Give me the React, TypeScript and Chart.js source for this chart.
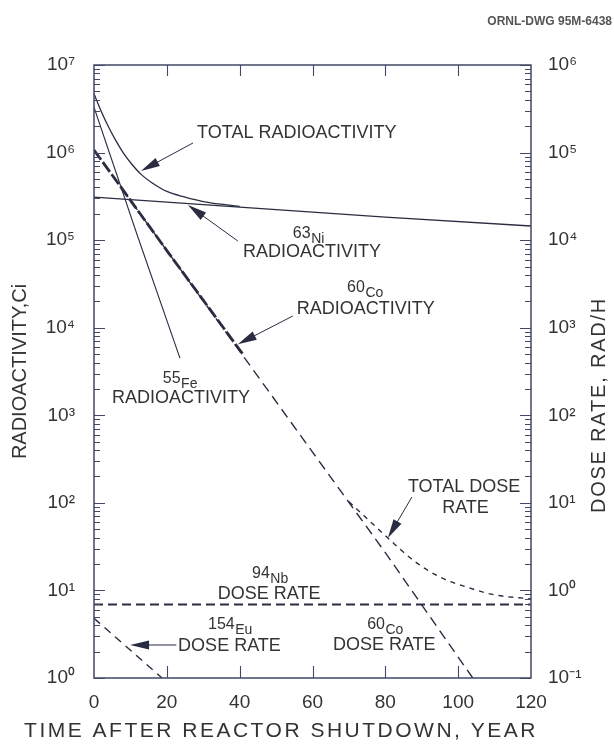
import React, { useEffect, useRef } from 'react';
import { Chart, registerables } from 'chart.js';

Chart.register(...registerables);

// ---------- data ----------
// Years after shutdown / activity in Ci (left axis)
const YEARS_TOTAL_ACT = [0, 2, 4, 6, 8, 10, 13, 16, 20, 25, 30, 36, 40];
const TOTAL_ACTIVITY = [4.7e6, 2.95e6, 1.96e6, 1.37e6, 1.0e6, 7.7e5, 5.6e5, 4.5e5, 3.6e5, 3.1e5, 2.76e5, 2.54e5, 2.43e5];

const YEARS_NI63 = [0, 40, 80, 120];
const NI63_ACTIVITY = [3.1e5, 2.38e5, 1.83e5, 1.45e5];

const YEARS_FE55 = [0, 12, 23.6];
const FE55_ACTIVITY = [3.3e6, 1.1e5, 4.5e3];

const YEARS_CO60_ACT = [0, 20, 41];
const CO60_ACTIVITY = [1.07e6, 7.6e4, 4.9e3];

// Dose rates in RAD/H (right axis)
const YEARS_CO60_DOSE = [0, 20, 40, 60, 80, 104];
const CO60_DOSE = [1.07e5, 7.6e3, 5.4e2, 38, 2.7, 0.1];

const YEARS_EU154_DOSE = [0, 18.7];
const EU154_DOSE = [0.48, 0.1];

const YEARS_NB94_DOSE = [0, 120];
const NB94_DOSE = [0.69, 0.69];

const YEARS_TOTAL_DOSE = [70, 75, 80.7, 87.6, 95, 103, 110, 120];
const TOTAL_DOSE = [10.3, 6.6, 3.97, 2.22, 1.42, 1.07, 0.89, 0.8];

// ---------- axes ----------
const X_TICKS = [0, 20, 40, 60, 80, 100, 120];
const LEFT_DECADES = [0, 1, 2, 3, 4, 5, 6, 7];
const LEFT_TICK_LABELS = ['10⁰', '10¹', '10²', '10³', '10⁴', '10⁵', '10⁶', '10⁷'];
const RIGHT_DECADES = [-1, 0, 1, 2, 3, 4, 5, 6];
const RIGHT_TICK_LABELS = ['10⁻¹', '10⁰', '10¹', '10²', '10³', '10⁴', '10⁵', '10⁶'];

const X_TITLE = 'TIME AFTER REACTOR SHUTDOWN, YEAR';
const LEFT_TITLE = 'RADIOACTIVITY,Ci';
const RIGHT_TITLE = 'DOSE RATE, RAD/H';
const DRAWING_ID = 'ORNL-DWG 95M-6438';

// ---------- styles ----------
const FONT = "'Liberation Sans', Arial, Helvetica, sans-serif";
const TEXT_COLOR = '#333333';
const LINE_COLOR = '#2a2d42';
const AXIS_COLOR = '#434867';

// ---------- annotations (positions in data units: year, log10 of left-axis value) ----------
type Note = {
  iso?: [string, string];
  isoAt?: [number, number];
  lines: { text: string; at: [number, number] }[];
  arrow?: { from: [number, number]; to: [number, number] };
};

const NOTES: Note[] = [
  {
    lines: [{ text: 'TOTAL RADIOACTIVITY', at: [28.3, 6.22] }],
    arrow: { from: [27.2, 6.11], to: [12.9, 5.79] },
  },
  {
    iso: ['63', 'Ni'],
    isoAt: [54.6, 5.09],
    lines: [{ text: 'RADIOACTIVITY', at: [40.9, 4.865] }],
    arrow: { from: [39.5, 4.99], to: [25.8, 5.40] },
  },
  {
    iso: ['60', 'Co'],
    isoAt: [69.5, 4.465],
    lines: [{ text: 'RADIOACTIVITY', at: [55.7, 4.214] }],
    arrow: { from: [54.6, 4.134], to: [39.5, 3.81] },
  },
  {
    iso: ['55', 'Fe'],
    isoAt: [18.9, 3.437],
    lines: [{ text: 'RADIOACTIVITY', at: [4.94, 3.197] }],
  },
  {
    iso: ['94', 'Nb'],
    isoAt: [43.4, 1.21],
    lines: [{ text: 'DOSE RATE', at: [34.0, 0.959] }],
  },
  {
    iso: ['154', 'Eu'],
    isoAt: [31.3, 0.617],
    lines: [{ text: 'DOSE RATE', at: [23.1, 0.365] }],
    arrow: { from: [22.6, 0.377], to: [9.9, 0.377] },
  },
  {
    iso: ['60', 'Co'],
    isoAt: [75.0, 0.617],
    lines: [{ text: 'DOSE RATE', at: [65.6, 0.377] }],
  },
  {
    lines: [
      { text: 'TOTAL DOSE', at: [86.2, 2.181] },
      { text: 'RATE', at: [95.6, 1.941] },
    ],
    arrow: { from: [87.3, 2.067], to: [80.7, 1.60] },
  },
];

function pts(xs: number[], ys: number[]) {
  return xs.map((x, i) => ({ x, y: ys[i] }));
}

function logTicks(decades: number[]) {
  const t: { value: number; major: boolean }[] = [];
  decades.forEach((d, i) => {
    const base = Math.pow(10, d);
    if (i === decades.length - 1) {
      t.push({ value: base, major: true });
      return;
    }
    for (let m = 1; m <= 9; m++) t.push({ value: m * base, major: m === 1 });
  });
  return t;
}

function labelFor(decades: number[], labels: string[]) {
  return (value: number) => {
    const e = Math.log10(value);
    const r = Math.round(e);
    if (Math.abs(e - r) > 1e-6) return '';
    const i = decades.indexOf(r);
    return i >= 0 ? labels[i] : '';
  };
}

function drawArrow(ctx: CanvasRenderingContext2D, x1: number, y1: number, x2: number, y2: number) {
  const ang = Math.atan2(y2 - y1, x2 - x1);
  const L = 19;
  const W = 4.6;
  const c = Math.cos(ang);
  const s = Math.sin(ang);
  ctx.beginPath();
  ctx.moveTo(x1, y1);
  ctx.lineTo(x2 - L * 0.7 * c, y2 - L * 0.7 * s);
  ctx.stroke();
  ctx.beginPath();
  ctx.moveTo(x2, y2);
  ctx.lineTo(x2 - L * c + W * s, y2 - L * s - W * c);
  ctx.lineTo(x2 - L * c - W * s, y2 - L * s + W * c);
  ctx.closePath();
  ctx.fill();
}

const overlayPlugin = {
  id: 'overlay',
  afterDraw(chart: any) {
    const { ctx, chartArea: a, scales } = chart;
    const xs = scales.x;
    const ys = scales.y;
    const ys2 = scales.y2;
    const P = (yr: number, ex: number): [number, number] => [
      xs.getPixelForValue(yr),
      ys.getPixelForValue(Math.pow(10, ex)),
    ];
    ctx.save();
    // frame
    ctx.strokeStyle = AXIS_COLOR;
    ctx.lineWidth = 1.5;
    ctx.strokeRect(a.left, a.top, a.right - a.left, a.bottom - a.top);
    // inward ticks
    ctx.lineWidth = 1.1;
    ctx.beginPath();
    for (const t of ys.ticks) {
      const py = Math.round(ys.getPixelForValue(t.value)) + 0.5;
      const len = t.major ? 11 : 6;
      ctx.moveTo(a.left, py);
      ctx.lineTo(a.left + len, py);
    }
    for (const t of ys2.ticks) {
      const py = Math.round(ys2.getPixelForValue(t.value)) + 0.5;
      const len = t.major ? 11 : 6;
      ctx.moveTo(a.right, py);
      ctx.lineTo(a.right - len, py);
    }
    for (const t of xs.ticks) {
      if (t.value <= 0 || t.value >= 120) continue;
      const px = Math.round(xs.getPixelForValue(t.value)) + 0.5;
      ctx.moveTo(px, a.bottom);
      ctx.lineTo(px, a.bottom - 12);
      ctx.moveTo(px, a.top);
      ctx.lineTo(px, a.top + 11);
    }
    ctx.stroke();

    // annotations
    ctx.fillStyle = TEXT_COLOR;
    ctx.strokeStyle = LINE_COLOR;
    ctx.lineWidth = 1;
    for (const n of NOTES) {
      if (n.iso && n.isoAt) {
        const [px, py] = P(n.isoAt[0], n.isoAt[1]);
        ctx.textAlign = 'left';
        ctx.textBaseline = 'alphabetic';
        ctx.font = `16px ${FONT}`;
        const base = py + 5.5;
        ctx.fillText(n.iso[0], px, base);
        const w = ctx.measureText(n.iso[0]).width;
        ctx.font = `14px ${FONT}`;
        ctx.fillText(n.iso[1], px + w + 0.5, base + 5);
      }
      for (const l of n.lines) {
        const [px, py] = P(l.at[0], l.at[1]);
        ctx.font = `18px ${FONT}`;
        ctx.textAlign = 'left';
        ctx.textBaseline = 'middle';
        ctx.fillText(l.text, px, py);
      }
      if (n.arrow) {
        const [x1, y1] = P(n.arrow.from[0], n.arrow.from[1]);
        const [x2, y2] = P(n.arrow.to[0], n.arrow.to[1]);
        ctx.fillStyle = LINE_COLOR;
        drawArrow(ctx, x1, y1, x2, y2);
        ctx.fillStyle = TEXT_COLOR;
      }
    }

    // drawing id
    ctx.font = `bold 12px ${FONT}`;
    ctx.textAlign = 'right';
    ctx.textBaseline = 'middle';
    ctx.fillStyle = '#555555';
    ctx.fillText(DRAWING_ID, 612, 22);

    // x-axis title
    ctx.fillStyle = TEXT_COLOR;
    ctx.font = `21px ${FONT}`;
    ctx.textAlign = 'center';
    ctx.textBaseline = 'middle';
    try { (ctx as any).letterSpacing = '2.5px'; } catch (e) {}
    ctx.fillText(X_TITLE, 281, 731);

    // right-axis title (reads bottom to top)
    try { (ctx as any).letterSpacing = '1.8px'; } catch (e) {}
    ctx.translate(599, 405);
    ctx.rotate(-Math.PI / 2);
    ctx.font = `20px ${FONT}`;
    ctx.fillText(RIGHT_TITLE, 0, 0);
    try { (ctx as any).letterSpacing = '0px'; } catch (e) {}
    ctx.restore();
  },
};

export default function App() {
  const ref = useRef<HTMLCanvasElement | null>(null);

  useEffect(() => {
    if (!ref.current) return;
    const line = (data: any, yAxisID: string, width: number, dash: number[], smooth = false) => ({
      data,
      yAxisID,
      borderColor: LINE_COLOR,
      borderWidth: width,
      borderDash: dash,
      pointRadius: 0,
      fill: false,
      cubicInterpolationMode: smooth ? 'monotone' : 'default',
      tension: 0,
    });

    const chart = new Chart(ref.current, {
      type: 'line',
      data: {
        datasets: [
          { label: 'Total radioactivity', ...line(pts(YEARS_TOTAL_ACT, TOTAL_ACTIVITY), 'y', 1.3, [], true) },
          { label: '63Ni radioactivity', ...line(pts(YEARS_NI63, NI63_ACTIVITY), 'y', 1.4, []) },
          { label: '55Fe radioactivity', ...line(pts(YEARS_FE55, FE55_ACTIVITY), 'y', 1.1, []) },
          { label: '60Co dose rate', ...line(pts(YEARS_CO60_DOSE, CO60_DOSE), 'y2', 1.4, [10, 6]) },
          { label: '60Co radioactivity', ...line(pts(YEARS_CO60_ACT, CO60_ACTIVITY), 'y', 2.8, [12, 3]) },
          { label: '94Nb dose rate', ...line(pts(YEARS_NB94_DOSE, NB94_DOSE), 'y2', 1.9, [9, 5]) },
          { label: '154Eu dose rate', ...line(pts(YEARS_EU154_DOSE, EU154_DOSE), 'y2', 1.4, [8, 6]) },
          { label: 'Total dose rate', ...line(pts(YEARS_TOTAL_DOSE, TOTAL_DOSE), 'y2', 1.4, [5, 5], true) },
        ] as any,
      },
      options: {
        animation: false,
        responsive: true,
        maintainAspectRatio: false,
        events: [],
        layout: { padding: { top: 65, left: 0, right: 0, bottom: 0 } },
        plugins: {
          legend: { display: false },
          tooltip: { enabled: false },
        },
        scales: {
          x: {
            type: 'linear',
            position: 'bottom',
            min: 0,
            max: 120,
            afterBuildTicks: (s: any) => {
              s.ticks = X_TICKS.map((v) => ({ value: v }));
            },
            afterFit: (s: any) => {
              s.height = 66;
            },
            grid: { display: false, drawTicks: false },
            border: { display: false },
            ticks: {
              autoSkip: false,
              maxRotation: 0,
              padding: 13,
              color: TEXT_COLOR,
              font: { family: FONT, size: 19 },
              callback: (v: any) => String(v),
            },
          },
          y: {
            type: 'logarithmic',
            position: 'left',
            min: 1,
            max: 1e7,
            afterBuildTicks: (s: any) => {
              s.ticks = logTicks(LEFT_DECADES);
            },
            afterFit: (s: any) => {
              s.width = 94;
            },
            grid: { display: false, drawTicks: false },
            border: { display: false },
            title: {
              display: true,
              text: LEFT_TITLE,
              color: TEXT_COLOR,
              font: { family: FONT, size: 20 },
              padding: { top: 8, bottom: 0 },
            },
            ticks: {
              autoSkip: false,
              padding: 19,
              color: TEXT_COLOR,
              font: { family: FONT, size: 19 },
              callback: labelFor(LEFT_DECADES, LEFT_TICK_LABELS) as any,
            },
          },
          y2: {
            type: 'logarithmic',
            position: 'right',
            min: 0.1,
            max: 1e6,
            afterBuildTicks: (s: any) => {
              s.ticks = logTicks(RIGHT_DECADES);
            },
            afterFit: (s: any) => {
              s.width = 83;
            },
            grid: { display: false, drawTicks: false },
            border: { display: false },
            ticks: {
              autoSkip: false,
              padding: 17,
              color: TEXT_COLOR,
              font: { family: FONT, size: 19 },
              callback: labelFor(RIGHT_DECADES, RIGHT_TICK_LABELS) as any,
            },
          },
        },
      } as any,
      plugins: [overlayPlugin],
    });
    return () => chart.destroy();
  }, []);

  return (
    <div
      style={{
        position: 'absolute',
        left: 0,
        top: 0,
        width: 614,
        height: 744,
        background: '#ffffff',
      }}
    >
      <canvas ref={ref} />
    </div>
  );
}
